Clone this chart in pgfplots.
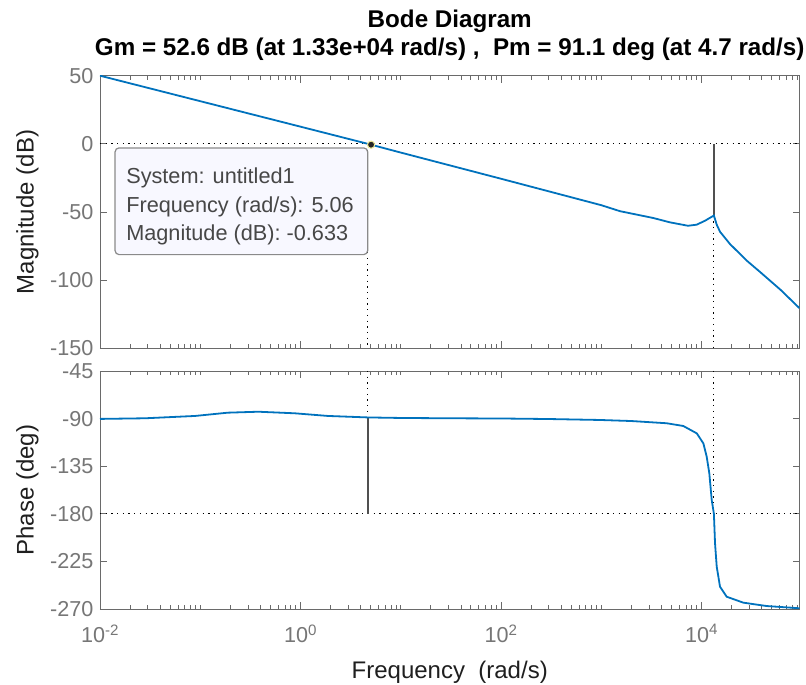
\documentclass[border=0pt]{standalone}
\usepackage{fontspec}
\setmainfont{Liberation Sans}
\usepackage{pgfplots}
\pgfplotsset{compat=1.18}
\definecolor{mblue}{HTML}{0072BD}
\definecolor{axgray}{HTML}{6A6A6A}
\definecolor{lblgray}{HTML}{767676}
\definecolor{tipfill}{HTML}{F8F8FF}
\definecolor{tipedge}{HTML}{8A8A8A}
\definecolor{vline}{HTML}{505050}
\tikzset{dotline/.style={black, line width=1.1pt, dash pattern=on 1.3pt off 4.4pt}}

\begin{document}
\begin{tikzpicture}[x=1pt,y=1pt]
\useasboundingbox (0,0) rectangle (806,685);

% ---------------- Magnitude ----------------
\begin{axis}[
  scale only axis, width=699.5pt, height=272.6pt,
  at={(100pt,336.7pt)}, anchor=south west,
  xmode=log, xmin=0.01, xmax=95000,
  axis line style={axgray, line width=0.9pt},
  tick style={axgray, line width=0.9pt},
  major tick length=7pt, minor tick length=4pt,
  tick align=inside,
  xtick={0.01,1,100,10000},
  minor xtick={0.02,0.03,0.04,0.05,0.06,0.07,0.08,0.09,0.1,
               0.2,0.3,0.4,0.5,0.6,0.7,0.8,0.9,
               2,3,4,5,6,7,8,9,10,
               20,30,40,50,60,70,80,90,
               200,300,400,500,600,700,800,900,1000,
               2000,3000,4000,5000,6000,7000,8000,9000,
               20000,30000,40000,50000,60000,70000,80000,90000},
  tick label style={font=\fontsize{21.6}{24}\selectfont, text=lblgray},
  yticklabel style={xshift=-3pt},
  label style={font=\fontsize{24}{28}\selectfont, text=black!88},
  ylabel style={at={(axis description cs:-0.1036,0.5)}, anchor=center},
  ymin=-150, ymax=50,
  ytick={-150,-100,-50,0,50},
  yticklabels={-150,-100,-50,0,50},
  xticklabels={},
  ylabel={Magnitude (dB)},
  title={Bode Diagram\\Gm = 52.6 dB (at 1.33e+04 rad/s) ,\ \ Pm = 91.1 deg (at 4.7 rad/s)},
  title style={at={(axis description cs:0.5,1)}, anchor=south, inner sep=0pt, yshift=8.5pt,
    align=center, font=\bfseries\fontsize{24.2}{28.5}\selectfont, text=black},
]
\addplot[dotline] coordinates {(0.01,0) (95000,0)};
\addplot[dotline] coordinates {(4.7,0) (4.7,-150)};
\addplot[dotline] coordinates {(13300,-52.6) (13300,-150)};
\addplot[vline, line width=1.8pt] coordinates {(13300,0) (13300,-52.6)};
\addplot[mblue, line width=1.8pt] coordinates {
 (0.01,50) (0.1,31.3) (1,12.6) (4.7,0) (5.06,-0.633) (10,-6.4) (100,-25.6)
 (1000,-45) (1538,-49.4) (3300,-54.4) (4850,-57.6) (7330,-60.1) (8950,-59.3)
 (10860,-56.4) (12200,-54.2) (13300,-52.6) (14190,-59.3) (15310,-64.5)
 (19240,-73.5) (28400,-85.8) (38400,-94) (61700,-107.2) (95000,-120.6)
};
\addplot[only marks, mark=*, mark size=3.6pt,
  mark options={fill=black!85, draw={rgb,255:red,240;green,235;blue,150}, line width=1pt}]
  coordinates {(5.06,-0.633)};
\node[draw=tipedge, fill=tipfill, rounded corners=4pt, line width=1.2pt,
  minimum width=252.6pt, minimum height=106.7pt, inner sep=0pt,
  anchor=north east, xshift=-2.8pt, yshift=-2.6pt] (tip) at (axis cs:5.06,-0.633) {};
\node[anchor=north west, inner sep=0pt, align=left, xshift=11.6pt, yshift=-20.5pt,
  font=\fontsize{21.7}{28.3}\selectfont, text=black!72] at (tip.north west)
  {System: untitled1\\Frequency (rad/s): 5.06\\Magnitude (dB): -0.633};
\end{axis}

% ---------------- Phase ----------------
\begin{axis}[
  scale only axis, width=699.5pt, height=238pt,
  at={(100pt,76pt)}, anchor=south west,
  xmode=log, xmin=0.01, xmax=95000,
  axis line style={axgray, line width=0.9pt},
  tick style={axgray, line width=0.9pt},
  major tick length=7pt, minor tick length=4pt,
  tick align=inside,
  xtick={0.01,1,100,10000},
  minor xtick={0.02,0.03,0.04,0.05,0.06,0.07,0.08,0.09,0.1,
               0.2,0.3,0.4,0.5,0.6,0.7,0.8,0.9,
               2,3,4,5,6,7,8,9,10,
               20,30,40,50,60,70,80,90,
               200,300,400,500,600,700,800,900,1000,
               2000,3000,4000,5000,6000,7000,8000,9000,
               20000,30000,40000,50000,60000,70000,80000,90000},
  tick label style={font=\fontsize{21.6}{24}\selectfont, text=lblgray},
  yticklabel style={xshift=-3pt},
  xticklabel style={yshift=-12pt},
  label style={font=\fontsize{24}{28}\selectfont, text=black!88},
  ylabel style={at={(axis description cs:-0.1036,0.5)}, anchor=center},
  ymin=-270, ymax=-45,
  ytick={-270,-225,-180,-135,-90,-45},
  yticklabels={-270,-225,-180,-135,-90,-45},
  xticklabels={10\textsuperscript{-2},10\textsuperscript{0},10\textsuperscript{2},10\textsuperscript{4}},
  ylabel={Phase (deg)},
  xlabel={Frequency~~(rad/s)},
  xlabel style={at={(axis description cs:0.5,-0.218)}, anchor=north, inner sep=0pt},
]
\addplot[dotline] coordinates {(0.01,-180) (95000,-180)};
\addplot[dotline] coordinates {(4.7,-45) (4.7,-88.9)};
\addplot[dotline] coordinates {(13300,-45) (13300,-180)};
\addplot[vline, line width=1.8pt] coordinates {(4.7,-88.9) (4.7,-180)};
\addplot[mblue, line width=1.8pt] coordinates {
 (0.01,-90.3) (0.0281,-89.7) (0.0887,-87.5) (0.189,-84.4) (0.38,-83.5)
 (0.88,-85.0) (1.88,-87.5) (4.7,-88.9) (10,-89.4) (30,-89.7) (100,-89.9)
 (300,-90.4) (971,-91.3) (2000,-92.3) (4500,-94.4) (6590,-97) (8960,-103.9)
 (10430,-113.3) (11270,-126) (11970,-141.7) (12650,-167) (13300,-180)
 (13650,-207.9) (14190,-230) (15310,-249) (17830,-258.4) (26100,-264)
 (44700,-267.2) (95000,-269.3)
};
\end{axis}
\end{tikzpicture}
\end{document}
